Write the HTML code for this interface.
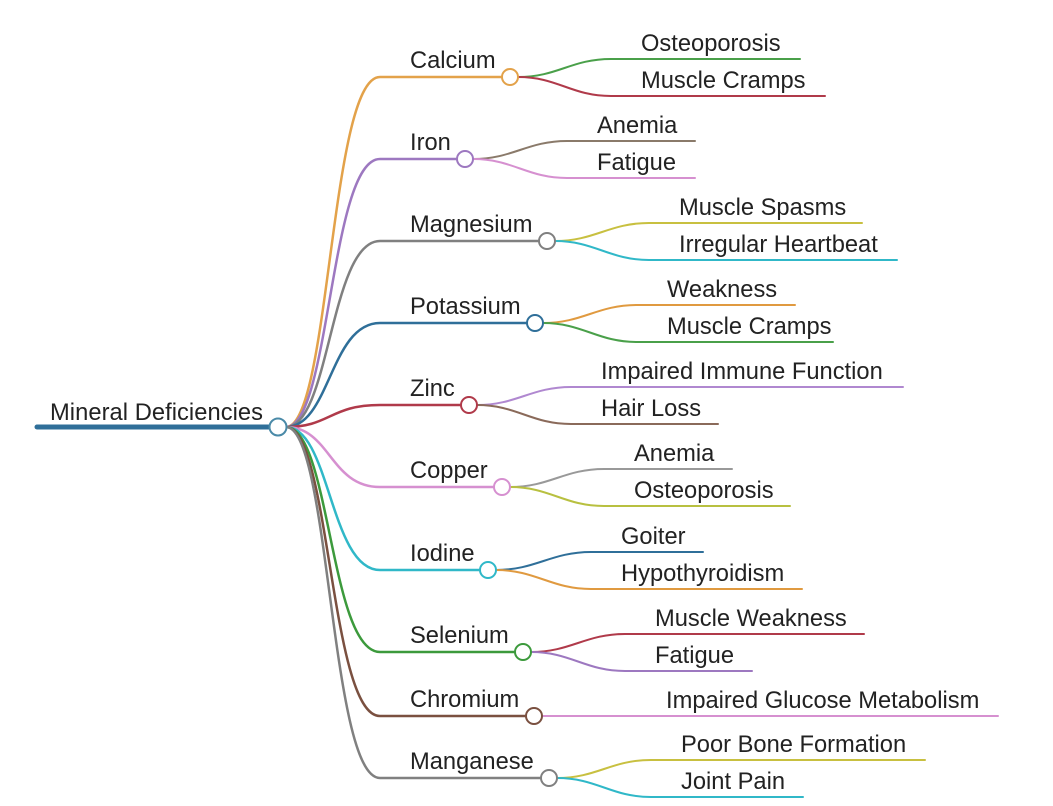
<!DOCTYPE html>
<html><head><meta charset="utf-8"><style>
html,body{margin:0;padding:0;background:#fff;}
svg text{font-family:"Liberation Sans",Arial,sans-serif;font-size:23.7px;fill:#222;}
</style></head><body>
<svg width="1053" height="801" viewBox="0 0 1053 801" xmlns="http://www.w3.org/2000/svg" fill="none" stroke-linecap="round">
<line x1="37" y1="427" x2="270" y2="427" stroke="#2f6f99" stroke-width="5"/>
<text x="50" y="420" textLength="213">Mineral Deficiencies</text>
<g id="branches" stroke-width="2.5"></g>
<g id="leaves" stroke-width="2"></g>
<g id="labels"></g>
<circle cx="278" cy="427" r="8.5" fill="#fff" stroke="#4a8aa8" stroke-width="2"/>
<script>
var ns="http://www.w3.org/2000/svg";
var data=[
["Calcium",77,510,"#e3a24a",[["Osteoporosis","#4aa04a",800,641],["Muscle Cramps","#b03a4a",825,641]]],
["Iron",159,465,"#9d78c0",[["Anemia","#8a7a6a",695,597],["Fatigue","#d690d0",695,597]]],
["Magnesium",241,547,"#808080",[["Muscle Spasms","#c8c040",862,679],["Irregular Heartbeat","#30b8c8",897,679]]],
["Potassium",323,535,"#2f6f99",[["Weakness","#e09a40",795,667],["Muscle Cramps","#4aa04a",833,667]]],
["Zinc",405,469,"#b03a4a",[["Impaired Immune Function","#b088d0",903,601],["Hair Loss","#8a6a5a",718,601]]],
["Copper",487,502,"#d690d0",[["Anemia","#999999",732,634],["Osteoporosis","#b8c040",790,634]]],
["Iodine",570,488,"#30b8c8",[["Goiter","#2f6f99",703,621],["Hypothyroidism","#e09a40",802,621]]],
["Selenium",652,523,"#3c9a3c",[["Muscle Weakness","#b03a4a",864,655],["Fatigue","#9d78c0",752,655]]],
["Chromium",716,534,"#7a5040",[["Impaired Glucose Metabolism","#d690d0",998,666]]],
["Manganese",778,549,"#808080",[["Poor Bone Formation","#c8c040",925,681],["Joint Pain","#30b8c8",803,681]]]
];
var B=document.getElementById("branches"),L=document.getElementById("leaves"),T=document.getElementById("labels");
function el(t,a,p){var e=document.createElementNS(ns,t);for(var k in a)e.setAttribute(k,a[k]);p.appendChild(e);return e;}
data.forEach(function(d){
 var y=d[1],cx=d[2];
 el("path",{d:"M286 427 C330 427 330 "+y+" 380 "+y+" L"+(cx-8)+" "+y,stroke:d[3],"stroke-width":2.5},B);
 var t=el("text",{x:410,y:y-9},T);t.textContent=d[0];
 var lv=d[4];
 lv.forEach(function(l,i){
  var ly=lv.length==1?y:(i==0?y-18:y+19);
  var sx=cx+8,ex=l[3]-30;
  el("path",{d:"M"+sx+" "+y+" C"+(sx+40)+" "+y+" "+(ex-40)+" "+ly+" "+ex+" "+ly+" L"+l[2]+" "+ly,stroke:l[1],"stroke-width":2},L);
  var tt=el("text",{x:l[3],y:ly-8},T);tt.textContent=l[0];
 });
 el("circle",{cx:cx,cy:y,r:8,fill:"#fff",stroke:d[3],"stroke-width":2},T);
});
</script>
</svg>
</body></html>
